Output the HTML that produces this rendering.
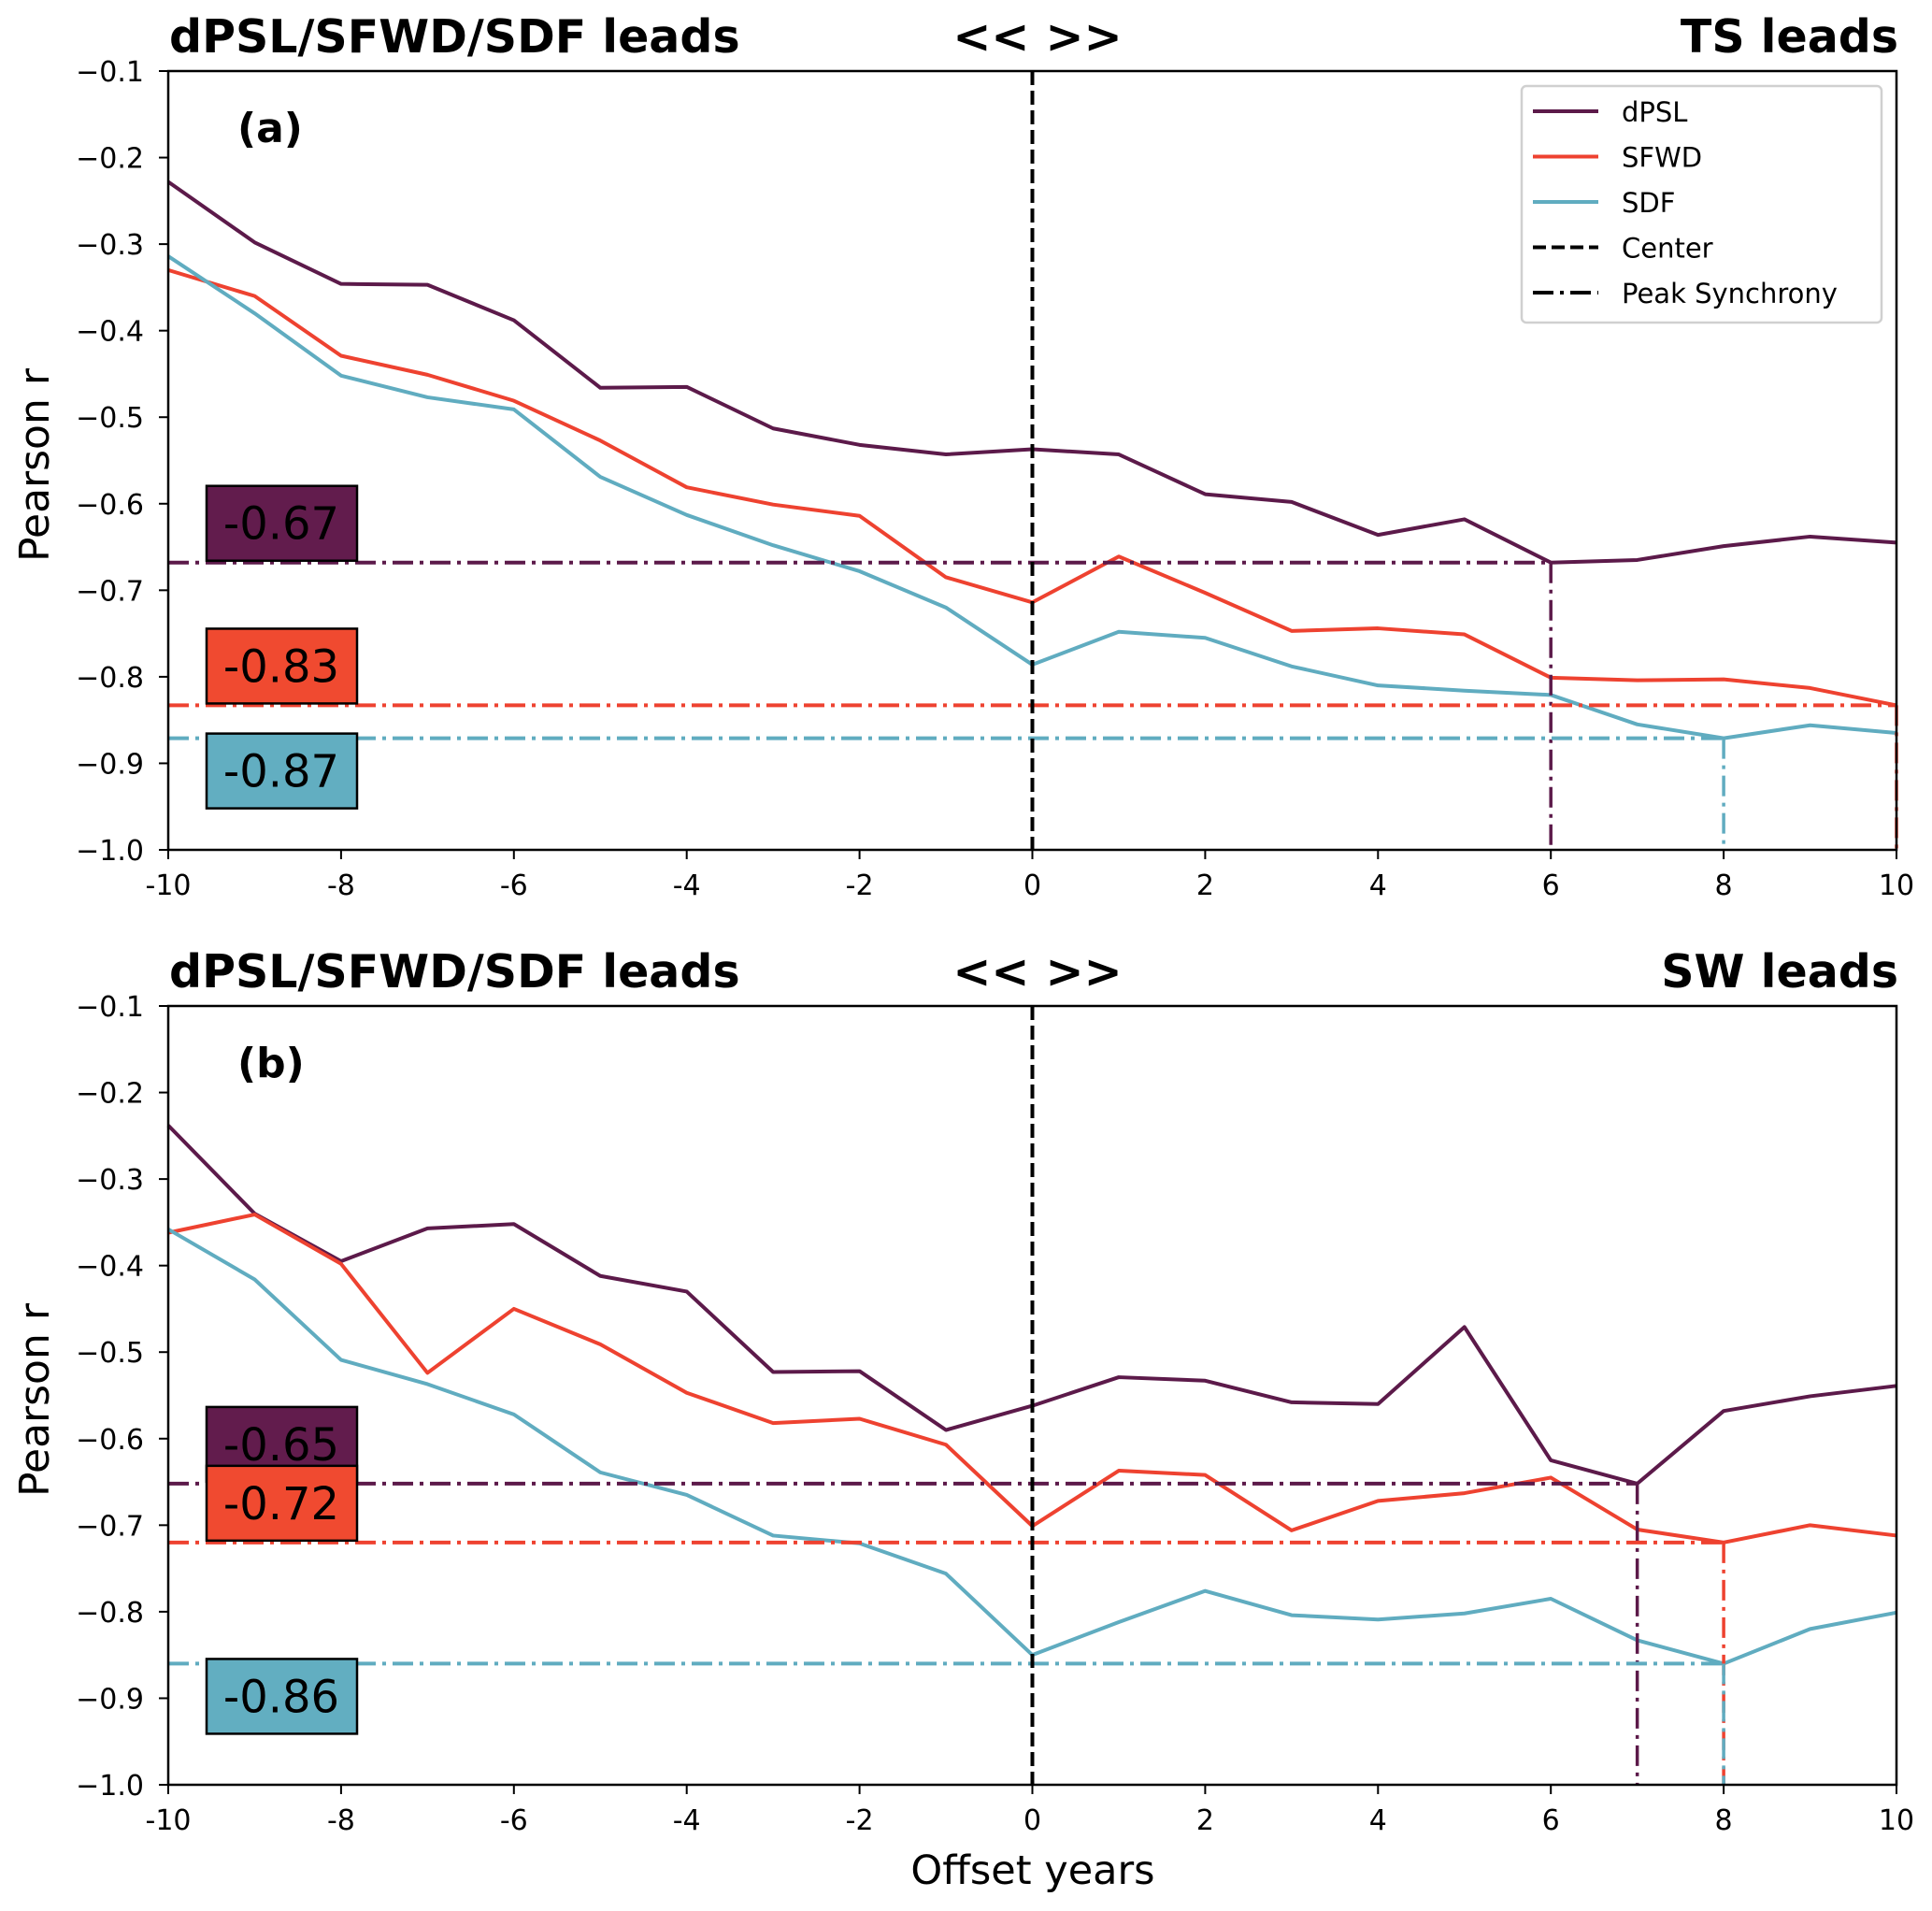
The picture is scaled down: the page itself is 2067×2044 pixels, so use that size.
<!DOCTYPE html>
<html><head><meta charset="utf-8"><style>
html,body{margin:0;padding:0;background:#fff;}
svg{display:block;font-family:"DejaVu Sans","Liberation Sans",sans-serif;}
</style></head><body>
<svg id="chart" width="2067" height="2044" viewBox="0 0 2067 2044" xmlns="http://www.w3.org/2000/svg"></svg>
<script>
const offsets = [-10,-9,-8,-7,-6,-5,-4,-3,-2,-1,0,1,2,3,4,5,6,7,8,9,10];
const xTickLabels = ["-10","-8","-6","-4","-2","0","2","4","6","8","10"];
const yTickLabels = ["\u22121.0","\u22120.9","\u22120.8","\u22120.7","\u22120.6","\u22120.5","\u22120.4","\u22120.3","\u22120.2","\u22120.1"];
const aDPSL = [-0.228,-0.298,-0.346,-0.347,-0.388,-0.466,-0.465,-0.513,-0.532,-0.543,-0.537,-0.543,-0.589,-0.598,-0.636,-0.618,-0.668,-0.665,-0.649,-0.638,-0.645];
const aSFWD = [-0.330,-0.360,-0.429,-0.451,-0.481,-0.527,-0.581,-0.601,-0.614,-0.685,-0.714,-0.661,-0.703,-0.747,-0.744,-0.751,-0.801,-0.804,-0.803,-0.813,-0.833];
const aSDF  = [-0.314,-0.380,-0.452,-0.477,-0.491,-0.569,-0.613,-0.648,-0.678,-0.720,-0.786,-0.748,-0.755,-0.788,-0.810,-0.816,-0.821,-0.855,-0.871,-0.856,-0.865];
const bDPSL = [-0.238,-0.340,-0.395,-0.357,-0.352,-0.412,-0.430,-0.523,-0.522,-0.590,-0.562,-0.529,-0.533,-0.558,-0.560,-0.471,-0.625,-0.652,-0.568,-0.551,-0.539];
const bSFWD = [-0.362,-0.341,-0.398,-0.524,-0.450,-0.491,-0.547,-0.582,-0.577,-0.607,-0.701,-0.637,-0.642,-0.706,-0.672,-0.663,-0.645,-0.705,-0.720,-0.700,-0.712];
const bSDF  = [-0.358,-0.416,-0.509,-0.537,-0.572,-0.639,-0.665,-0.712,-0.721,-0.756,-0.850,-0.812,-0.776,-0.804,-0.809,-0.802,-0.785,-0.833,-0.860,-0.820,-0.801];

const svg = document.getElementById('chart');
const NS = "http://www.w3.org/2000/svg";
function mk(tag, attrs, parent, text){const e=document.createElementNS(NS,tag);for(const k in attrs)e.setAttribute(k,attrs[k]);if(text!==undefined)e.textContent=text;(parent||svg).appendChild(e);return e;}
const COL = {dPSL:"#5c1a4a", SFWD:"#ee4230", SDF:"#60acc0"};
const BOX = {dPSL:"#621c4d", SFWD:"#f04a30", SDF:"#62aec1"};
const X0=180, X1=2029, H=833;
function xs(v){return X0+(v+10)/20*(X1-X0);}

function panel(id, top, series, rightTitle, letter){
  const bot = top+H;
  const ys = v => top + (-0.1 - v)/0.9*H;
  const g = mk('g',{});
  
  
  let t;
  t=mk('text',{x:181,y:top-20,'font-size':49,'font-weight':'bold'},g,'dPSL/SFWD/SDF leads');
  
  t=mk('text',{x:1110,y:top-20,'font-size':49,'font-weight':'bold','text-anchor':'middle'},g,'<< >>');
  
  t=mk('text',{x:2031,y:top-20,'font-size':49,'font-weight':'bold','text-anchor':'end'},g,rightTitle);
  
  t=mk('text',{x:254,y:top+76,'font-size':44,'font-weight':'bold'},g,letter);
  
  yTickLabels.forEach((lab,i)=>{const v=-1+i*0.1;const y=ys(v);
    mk('line',{x1:X0-10,x2:X0,y1:y,y2:y,stroke:'#000','stroke-width':2},g);
    t=mk('text',{x:X0-26,y:y+11,'font-size':30,'text-anchor':'end'},g,lab);
    });
  xTickLabels.forEach((lab)=>{const v=+lab;const x=xs(v);
    mk('line',{x1:x,x2:x,y1:bot,y2:bot+10,stroke:'#000','stroke-width':2},g);
    t=mk('text',{x:x,y:bot+48,'font-size':30,'text-anchor':'middle'},g,lab);
    });
  t=mk('text',{x:0,y:0,'font-size':44,'text-anchor':'middle',transform:`translate(52,${top+H/2+5}) rotate(-90)`},g,'Pearson r');
  
  const names=['dPSL','SFWD','SDF'];
  names.forEach((n,k)=>{const vals=series[k];
    const p=mk('polyline',{points:vals.map((v,i)=>xs(offsets[i])+','+ys(v)).join(' '),fill:'none',stroke:COL[n],'stroke-width':4,'stroke-linejoin':'round'},g);
    });
  names.forEach((n,k)=>{const vals=series[k];let mi=0;vals.forEach((v,i)=>{if(v<vals[mi])mi=i;});
    const pv=vals[mi], y=ys(pv), x=xs(offsets[mi]);
    let l=mk('line',{x1:X0,x2:x,y1:y,y2:y,stroke:COL[n],'stroke-width':4,'stroke-dasharray':'22 7 4 7'},g);
    
    l=mk('line',{x1:x,x2:x,y1:y,y2:bot,stroke:COL[n],'stroke-width':3.5,'stroke-dasharray':'22 7 4 7'},g);
    
    const by = n==='SDF'? y-5 : y-82;
    const r=mk('rect',{x:221,y:by,width:161,height:80,fill:BOX[n],stroke:'#000','stroke-width':2.5},g);
    
    t=mk('text',{x:301,y:by+57,'font-size':48,'text-anchor':'middle'},g,pv.toFixed(2));
    });
  let c=mk('line',{x1:xs(0),x2:xs(0),y1:top,y2:bot,stroke:'#000','stroke-width':4,'stroke-dasharray':'15 6'},g);
  
  let fr=mk('rect',{x:X0,y:top,width:X1-X0,height:H,fill:'none',stroke:'#000','stroke-width':2.5},g);
  
}
panel('a',76,[aDPSL,aSFWD,aSDF],'TS leads','(a)');
panel('b',1076,[bDPSL,bSFWD,bSDF],'SW leads','(b)');

const lg=mk('g',{});


mk('rect',{x:1628,y:92,width:385,height:253,rx:5,fill:'#fff',stroke:'#d0d0d0','stroke-width':2.5},lg);
const legItems=[['dPSL',COL.dPSL,''],['SFWD',COL.SFWD,''],['SDF',COL.SDF,''],['Center','#000','14 6'],['Peak Synchrony','#000','22 7 4 7']];
legItems.forEach((it,i)=>{const y=119+i*48.5;
  const e=mk('g',{},lg);
  
  
  const a={x1:1640,x2:1710,y1:y,y2:y,stroke:it[1],'stroke-width':4};if(it[2])a['stroke-dasharray']=it[2];
  mk('line',a,e);
  mk('text',{x:1735,y:y+11,'font-size':29},e,it[0]);});
let xt=mk('text',{x:1105,y:2015,'font-size':43,'text-anchor':'middle'},svg,'Offset years');


</script>
</body></html>
